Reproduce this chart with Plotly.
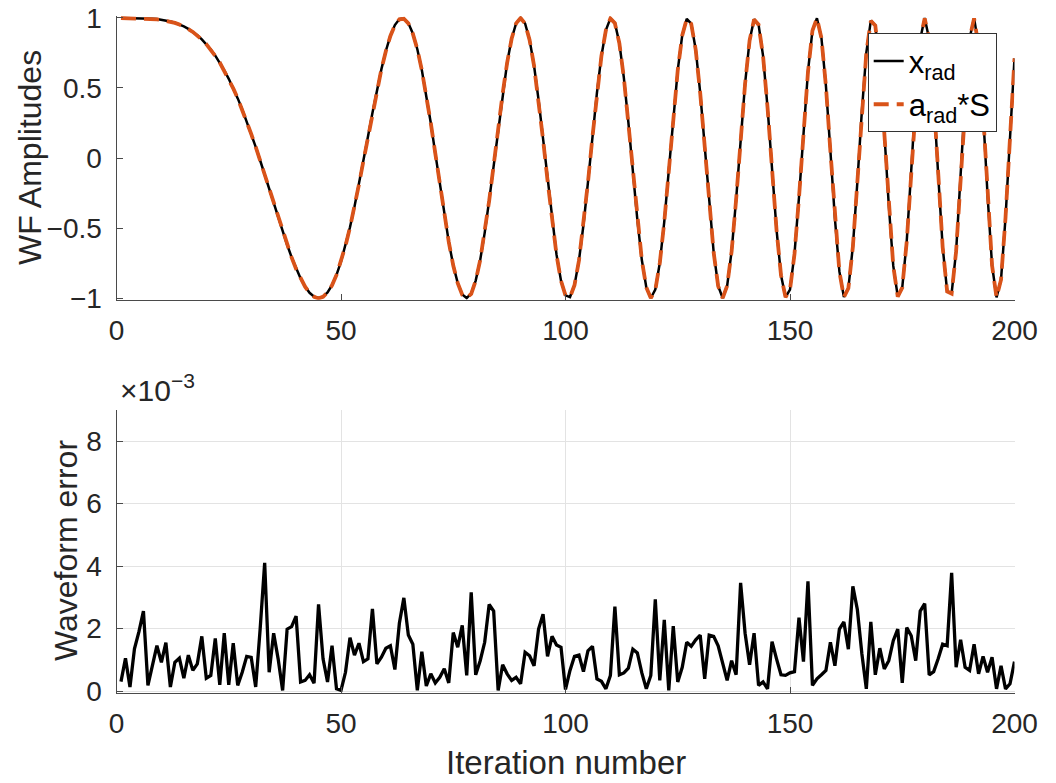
import plotly.graph_objects as go

# ---------------- data ----------------
iteration = list(range(1, 201))

x_rad = [
    1.000, 1.000, 1.000, 0.9997, 0.9992, 0.9984, 0.9971, 0.9951, 0.9921, 0.9880,
    0.9824, 0.9751, 0.9658, 0.9541, 0.9397, 0.9222, 0.9011, 0.8763, 0.8473, 0.8135,
    0.7750, 0.7311, 0.6817, 0.6264, 0.5656, 0.4985, 0.4258, 0.3476, 0.2627, 0.1736,
    0.0797, -0.0179, -0.1183, -0.2209, -0.3236, -0.4258, -0.5248, -0.6199, -0.7083, -0.7903,
    -0.8608, -0.9184, -0.9628, -0.9905, -1.000, -0.9901, -0.9595, -0.9078, -0.8347, -0.7405,
    -0.6265, -0.4944, -0.3476, -0.1874, -0.0195, 0.1521, 0.3221, 0.4845, 0.6346, 0.7660,
    0.8728, 0.9494, 0.9921, 0.9975, 0.9634, 0.8894, 0.7769, 0.6290, 0.4513, 0.2494,
    0.0333, -0.1874, -0.4014, -0.5987, -0.7660, -0.8934, -0.9744, -0.9999, -0.9670, -0.8756,
    -0.7290, -0.5344, -0.3032, -0.0489, 0.2117, 0.4603, 0.6801, 0.8518, 0.9617, 1.000,
    0.9608, 0.8447, 0.6588, 0.4154, 0.1353, -0.1597, -0.4439, -0.6904, -0.8760, -0.9813,
    -0.9931, -0.9078, -0.7312, -0.4787, -0.1736, 0.1521, 0.4646, 0.7290, 0.9135, 0.9970,
    0.9650, 0.8189, 0.5729, 0.2555, -0.0970, -0.4397, -0.7290, -0.9245, -0.9998, -0.9397,
    -0.7499, -0.4538, -0.0907, 0.2885, 0.6274, 0.8760, 0.9939, 0.9595, 0.7750, 0.4664,
    0.0797, -0.3222, -0.6737, -0.9135, -1.000, -0.9130, -0.6647, -0.2961, 0.1290, 0.5327,
    0.8398, 0.9911, 0.9527, 0.7290, 0.3598, -0.0829, -0.5121, -0.8371, -0.9934, -0.9397,
    -0.6850, -0.2812, 0.1874, 0.6161, 0.9097, 0.9984, 0.8570, 0.5145, 0.0489, -0.4319,
    -0.8099, -0.9921, -0.9292, -0.6326, -0.1736, 0.3327, 0.7531, 0.9811, 0.9469, 0.6575,
    0.1874, -0.3372, -0.7705, -0.9882, -0.9257, -0.5942, -0.0907, 0.4439, 0.8484, 1.000,
    0.8473, 0.4327, -0.1183, -0.6347, -0.9519, -0.9650, -0.6647, -0.1449, 0.4258, 0.8558,
    0.9988, 0.8008, 0.3256, -0.2661, -0.7660, -0.9958, -0.8688, -0.4258, 0.1750, 0.7127,
]

# waveform error, in units of 1e-3
waveform_error_e3 = [
    0.30, 1.05, 0.13, 1.35, 1.90, 2.56, 0.18, 0.80, 1.45, 0.92,
    1.55, 0.13, 0.92, 1.05, 0.41, 1.15, 0.66, 0.87, 1.75, 0.41,
    0.50, 1.68, 0.20, 1.85, 0.20, 1.53, 0.18, 0.60, 1.11, 1.08,
    0.13, 2.00, 4.10, 0.60, 1.85, 1.03, 0.02, 1.98, 2.06, 2.40,
    0.29, 0.34, 0.52, 0.25, 2.77, 1.03, 0.29, 1.45, 0.07, 0.02,
    0.60, 1.71, 1.15, 1.53, 0.94, 1.03, 2.63, 0.87, 1.08, 1.37,
    1.45, 0.69, 2.17, 2.98, 1.79, 1.50, 0.02, 1.26, 0.16, 0.55,
    0.26, 0.44, 0.71, 0.26, 1.87, 1.40, 2.10, 0.50, 3.16, 0.52,
    0.97, 1.56, 2.77, 2.56, 0.02, 0.84, 0.55, 0.34, 0.44, 0.23,
    1.24, 1.13, 0.81, 1.98, 2.46, 1.11, 1.75, 1.47, 1.40, 0.05,
    0.66, 1.11, 1.15, 0.62, 1.29, 1.43, 0.39, 0.31, 0.07, 0.50,
    2.70, 0.52, 0.58, 0.73, 1.34, 1.22, 0.58, 0.07, 0.50, 2.93,
    0.34, 2.28, 0.02, 2.08, 0.29, 0.76, 1.56, 1.43, 1.64, 1.79,
    0.39, 1.79, 1.75, 1.45, 0.92, 0.34, 0.97, 0.52, 3.46, 1.85,
    0.84, 1.85, 0.18, 0.29, 0.07, 1.58, 1.03, 0.52, 0.50, 0.58,
    0.62, 2.35, 0.94, 3.51, 0.18, 0.39, 0.52, 0.66, 1.56, 0.81,
    1.98, 2.21, 1.34, 3.35, 2.61, 1.20, 0.07, 2.21, 0.52, 1.37,
    0.71, 0.97, 1.61, 1.98, 0.26, 2.03, 1.77, 0.97, 2.56, 2.80,
    0.52, 0.62, 1.03, 1.50, 1.45, 3.78, 0.76, 1.64, 0.76, 0.66,
    1.50, 0.55, 1.11, 0.60, 1.08, 0.07, 0.81, 0.07, 0.23, 0.94,
]

# reconstructed a_rad*S (x_rad minus the tiny waveform error)
a_rad_S = [xv - ev * 1e-3 for xv, ev in zip(x_rad, waveform_error_e3)]

x_ticks = [0, 50, 100, 150, 200]
top_y_ticks = [-1, -0.5, 0, 0.5, 1]
top_y_ticktext = ["\u22121", "\u22120.5", "0", "0.5", "1"]
bot_y_ticks = [0, 2, 4, 6, 8]

# ---------------- style ----------------
FONT = "Liberation Sans, Arial, sans-serif"
TXT = "#262626"
AX = "#4a4a4a"
ORANGE = "#D95319"
W, H = 1056, 783


def px_x(p):
    return p / W


def px_y(p):
    return 1 - p / H


fig = go.Figure()
fig.add_trace(go.Scatter(
    x=iteration, y=x_rad, mode="lines", name="x<sub>rad</sub>",
    line=dict(color="black", width=2.5), xaxis="x", yaxis="y"))
fig.add_trace(go.Scatter(
    x=iteration, y=a_rad_S, mode="lines", name="a<sub>rad</sub>*S",
    line=dict(color=ORANGE, width=3.8, dash="15px,8px"), xaxis="x", yaxis="y"))
fig.add_trace(go.Scatter(
    x=iteration, y=waveform_error_e3, mode="lines", showlegend=False,
    line=dict(color="black", width=3.3), xaxis="x2", yaxis="y2"))

xdom = [px_x(116.5), px_x(1014.5)]
common_x = dict(
    range=[0, 200], tickvals=x_ticks, ticks="inside", ticklen=6, tickcolor=AX,
    showline=True, linecolor=AX, linewidth=1, zeroline=False, automargin=False,
    tickfont=dict(family=FONT, size=28, color=TXT), domain=xdom,
)

fig.update_layout(
    width=W, height=H,
    margin=dict(l=0, r=0, t=0, b=0, autoexpand=False),
    paper_bgcolor="white", plot_bgcolor="white",
    font=dict(family=FONT, color=TXT),
    xaxis=dict(**common_x, anchor="y", showgrid=False, ticklabelstandoff=6),
    yaxis=dict(
        domain=[px_y(299.7), px_y(16.3)], range=[-1.012, 1.012],
        tickvals=top_y_ticks, ticktext=top_y_ticktext,
        ticks="inside", ticklen=6, tickcolor=AX, automargin=False,
        showline=True, linecolor=AX, linewidth=1, zeroline=False, showgrid=False,
        tickfont=dict(family=FONT, size=28, color=TXT), anchor="x",
        ticklabelstandoff=8,
    ),
    xaxis2=dict(**common_x, anchor="y2", showgrid=True, gridcolor="#e3e3e3",
                gridwidth=1, ticklabelstandoff=6),
    yaxis2=dict(
        domain=[px_y(692.6), px_y(409.75)], range=[-0.05, 9],
        tickvals=bot_y_ticks, ticks="inside", ticklen=6, tickcolor=AX,
        showline=True, linecolor=AX, linewidth=1, zeroline=False, automargin=False,
        showgrid=True, gridcolor="#e3e3e3", gridwidth=1,
        tickfont=dict(family=FONT, size=28, color=TXT), anchor="x2",
        ticklabelstandoff=8,
    ),
    legend=dict(
        x=px_x(996.7), y=px_y(33.3), xanchor="right", yanchor="top",
        bgcolor="white", bordercolor="#333333", borderwidth=1,
        font=dict(family=FONT, size=31, color="black"),
        tracegroupgap=0, itemwidth=30,
    ),
    showlegend=True,
)

annotations = [
    dict(text="WF Amplitudes", x=px_x(30), y=px_y(158), xref="paper", yref="paper",
         textangle=-90, showarrow=False, xanchor="center", yanchor="middle",
         font=dict(family=FONT, size=32, color=TXT)),
    dict(text="Waveform error", x=px_x(66), y=px_y(551), xref="paper", yref="paper",
         textangle=-90, showarrow=False, xanchor="center", yanchor="middle",
         font=dict(family=FONT, size=32, color=TXT)),
    dict(text="Iteration number", x=px_x(565.5), y=px_y(762), xref="paper", yref="paper",
         showarrow=False, xanchor="center", yanchor="middle",
         font=dict(family=FONT, size=33, color=TXT)),
    dict(text="\u00d710<sup>\u22123</sup>", x=px_x(118), y=px_y(409), xref="paper",
         yref="paper", showarrow=False, xanchor="left", yanchor="bottom",
         font=dict(family=FONT, size=30, color=TXT)),
]
fig.update_layout(annotations=annotations)

fig.write_html("out.html")
